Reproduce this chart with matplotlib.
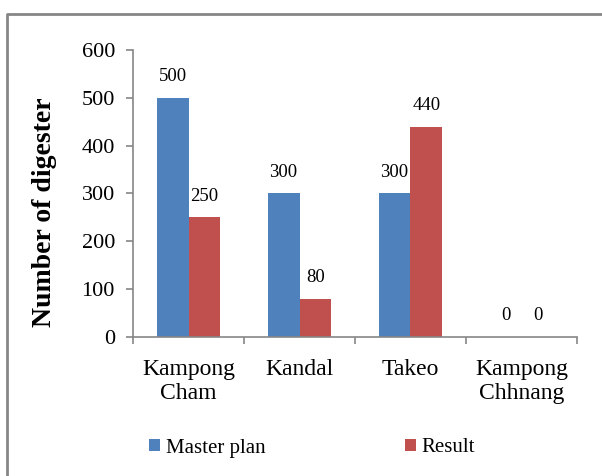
import matplotlib
matplotlib.use("Agg")
import matplotlib.pyplot as plt
from matplotlib.lines import Line2D
import numpy as np

categories = ["Kampong\nCham", "Kandal", "Takeo", "Kampong\nChhnang"]
master_plan = [500, 300, 300, 0]
result = [250, 80, 440, 0]
series_names = ["Master plan", "Result"]
yticks = [0, 100, 200, 300, 400, 500, 600]

BLUE = "#4F81BD"
RED = "#C0504D"
GRAY = "#868686"

plt.rcParams['font.family'] = ['Liberation Serif', 'DejaVu Serif']

W, H = 602, 476
fig = plt.figure(figsize=(W / 100, H / 100), dpi=100)
ax = fig.add_axes([133 / W, 1 - 337 / H, 444 / W, 287 / H])

x = np.arange(len(categories))
bw = 0.288
b1 = ax.bar(x - bw / 2, master_plan, bw, color=BLUE, label=series_names[0])
b2 = ax.bar(x + bw / 2, result, bw, color=RED, label=series_names[1])

for bars, vals in ((b1, master_plan), (b2, result)):
    for rect, v in zip(bars, vals):
        ax.annotate(f"{v}", (rect.get_x() + rect.get_width() / 2, v),
                    xytext=(0, 9), textcoords="offset points",
                    ha="center", va="bottom", fontsize=13.5)

ax.set_xlim(-0.5, len(categories) - 0.5)
ax.set_ylim(0, 600)
ax.set_yticks(yticks)
ax.set_yticklabels([str(t) for t in yticks], fontsize=16)

ax.set_xticks(x)
ax.set_xticklabels(categories, fontsize=17, linespacing=1.2)
ax.tick_params(axis="x", which="major", length=0, pad=16)
ax.set_xticks(np.arange(-0.5, len(categories), 1.0), minor=True)
ax.tick_params(axis="x", which="minor", length=5, color=GRAY, width=1.2)
ax.tick_params(axis="y", length=5, color=GRAY, width=1.2, pad=8)

for s in ("top", "right"):
    ax.spines[s].set_visible(False)
for s in ("left", "bottom"):
    ax.spines[s].set_color(GRAY)
    ax.spines[s].set_linewidth(1.2)

ax.set_ylabel("Number of digester", fontsize=20, fontweight="bold")
ax.yaxis.set_label_coords((57 - 133) / 444, (337 - 212) / 287)

leg = fig.legend(handles=[b1, b2], labels=series_names, loc="center left",
                 bbox_to_anchor=(149 / W, 1 - 448 / H), ncol=2, frameon=False,
                 fontsize=15, handlelength=0.55, handleheight=0.55,
                 handletextpad=0.25, columnspacing=6.7, borderaxespad=0,
                 borderpad=0)

fig.add_artist(Line2D([6.5 / W, 6.5 / W, 1.0], [0, 1 - 14 / H, 1 - 14 / H],
                      transform=fig.transFigure, color=GRAY, lw=2))

fig.savefig("out.png", dpi=100)
